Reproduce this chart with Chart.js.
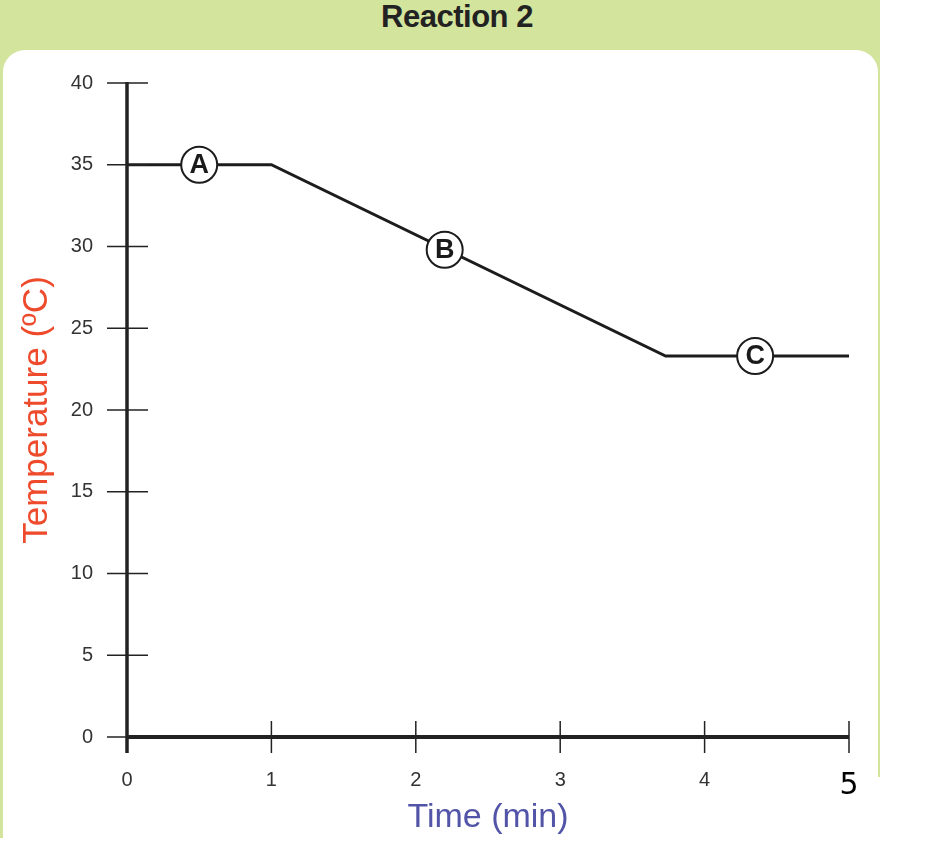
<!DOCTYPE html>
<html>
<head>
<meta charset="utf-8">
<script src="https://cdn.jsdelivr.net/npm/chart.js@4"></script>
<style>
  body { margin: 0; width: 935px; height: 858px; background: #fff; position: relative; overflow: hidden; }
  #green { position: absolute; left: 0; top: 0; width: 880px; height: 838px; background: #d3e49d; }
  #panel { position: absolute; left: 3px; top: 50px; width: 875px; height: 808px; background: #fff; border-radius: 22px 22px 0 0; }
  #patch { position: absolute; left: 862px; top: 777px; width: 73px; height: 81px; background: #fff; }
  #title { position: absolute; left: 0; top: 0; width: 914px; text-align: center; font: bold 31px "Liberation Sans", Arial, sans-serif; color: #222; line-height: 34px; letter-spacing: -0.5px; }
  #wrap { position: absolute; left: 0; top: 0; width: 935px; height: 858px; }
</style>
</head>
<body>
<div id="green"></div>
<div id="panel"></div>
<div id="patch"></div>
<div id="title">Reaction 2</div>
<div id="wrap"><canvas id="chart"></canvas></div>
<script>
// readings from the graph
const times = [0, 1, 3.73, 5];
const temps = [35, 35, 23.3, 23.3];
const markerNames = ['A', 'B', 'C'];
const markerTimes = [0.5, 2.2, 4.35];
const markerTemps = [35, 29.8, 23.3];
const xTicks = [0, 1, 2, 3, 4, 5];
const yTicks = [0, 5, 10, 15, 20, 25, 30, 35, 40];

// axis lines and ticks that cross the axis
const axesPlugin = {
  id: 'axes',
  afterDatasetsDraw(chart) {
    const ctx = chart.ctx, x = chart.scales.x, y = chart.scales.y;
    const x0 = x.getPixelForValue(0), y0 = y.getPixelForValue(0);
    ctx.save();
    ctx.strokeStyle = '#222';
    ctx.lineWidth = 1.5;
    yTicks.forEach(v => {
      const py = y.getPixelForValue(v);
      ctx.beginPath(); ctx.moveTo(x0 - 20, py); ctx.lineTo(x0 + 21, py); ctx.stroke();
    });
    xTicks.forEach(v => {
      const px = x.getPixelForValue(v);
      ctx.beginPath(); ctx.moveTo(px, v === 0 ? y0 : y0 - 16); ctx.lineTo(px, y0 + 16); ctx.stroke();
    });
    ctx.lineWidth = 3.5;
    ctx.beginPath(); ctx.moveTo(x0, y.getPixelForValue(40) - 1); ctx.lineTo(x0, y0 + 16); ctx.stroke();
    ctx.lineWidth = 4;
    ctx.beginPath(); ctx.moveTo(x0, y0); ctx.lineTo(x.getPixelForValue(5), y0); ctx.stroke();
    ctx.restore();
  }
};

// letters inside the circles
const letterPlugin = {
  id: 'letters',
  afterDraw(chart) {
    const ctx = chart.ctx;
    const meta = chart.getDatasetMeta(1);
    ctx.save();
    ctx.fillStyle = '#1a1a1a';
    ctx.font = 'bold 27px "Liberation Sans", Arial, sans-serif';
    ctx.textAlign = 'center';
    ctx.textBaseline = 'middle';
    meta.data.forEach((pt, i) => ctx.fillText(markerNames[i], pt.x, pt.y + 1));
    ctx.restore();
  }
};

const ctx = document.getElementById('chart').getContext('2d');
new Chart(ctx, {
  type: 'line',
  data: {
    datasets: [{
      data: times.map((t, i) => ({ x: t, y: temps[i] })),
      borderColor: '#1c1c1c',
      borderWidth: 3,
      pointRadius: 0,
      tension: 0,
      order: 2
    }, {
      type: 'scatter',
      data: markerTimes.map((t, i) => ({ x: t, y: markerTemps[i] })),
      pointRadius: 18,
      pointHoverRadius: 18,
      pointBackgroundColor: '#fff',
      pointBorderColor: '#1c1c1c',
      pointBorderWidth: 2,
      order: 1
    }]
  },
  options: {
    responsive: true,
    maintainAspectRatio: false,
    animation: false,
    events: [],
    layout: { padding: { left: 0, top: 83, right: 86, bottom: 0 } },
    plugins: { legend: { display: false }, tooltip: { enabled: false } },
    scales: {
      x: {
        type: 'linear',
        min: 0, max: 5,
        afterFit: s => { s.height = 121; },
        afterBuildTicks: s => { s.ticks = xTicks.map(v => ({ value: v })); },
        border: { display: false },
        grid: { display: false, drawTicks: true, tickLength: 16 },
        ticks: {
          padding: 15,
          color: ctx => ctx.tick && ctx.tick.value === 5 ? '#000' : '#333',
          font: ctx => ctx.tick && ctx.tick.value === 5
            ? { family: '"DejaVu Sans", sans-serif', size: 30, weight: 'normal' }
            : { family: '"Liberation Sans", Arial, sans-serif', size: 20 }
        },
        title: {
          display: true,
          text: 'Time (min)',
          color: '#5254a8',
          font: { family: '"Liberation Sans", Arial, sans-serif', size: 34 },
          padding: { top: 0, bottom: 20 }
        }
      },
      y: {
        min: 0, max: 40,
        afterFit: s => { s.width = 127; },
        afterBuildTicks: s => { s.ticks = yTicks.map(v => ({ value: v })); },
        border: { display: false },
        grid: { display: false, drawTicks: true, tickLength: 20 },
        ticks: {
          padding: 14,
          color: '#333',
          font: { family: '"Liberation Sans", Arial, sans-serif', size: 20 }
        },
        title: {
          display: true,
          text: 'Temperature (ºC)',
          color: '#ee4a2c',
          font: { family: '"Liberation Sans", Arial, sans-serif', size: 35 },
          padding: { top: 16, bottom: 0 }
        }
      }
    }
  },
  plugins: [axesPlugin, letterPlugin]
});
</script>
</body>
</html>
